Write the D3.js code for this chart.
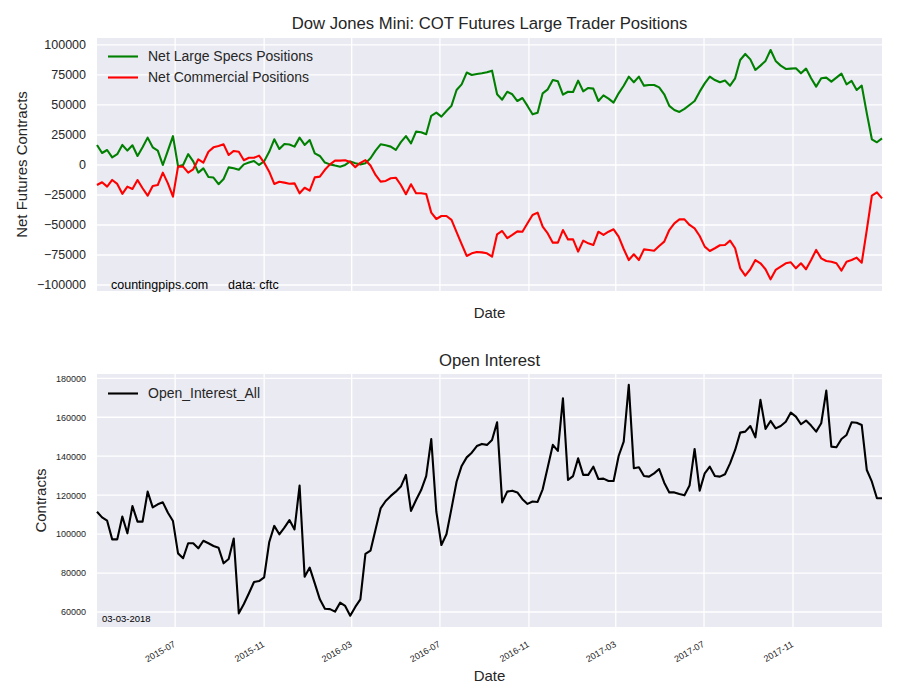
<!DOCTYPE html>
<html>
<head>
<meta charset="utf-8">
<script src="https://cdn.jsdelivr.net/npm/d3@7"></script>
<style>
  body { margin: 0; background: #ffffff; }
  svg { display: block; font-family: "Liberation Sans", Arial, sans-serif; }
</style>
</head>
<body>
<svg id="chart" width="900" height="700"></svg>
<script>
// ---------------- DATA ----------------
const startDate = "2015-03-10";   // first weekly (Tuesday) report date
const weeks = 156;                 // number of weekly observations

const netLargeSpecs = [
  16700, 10000, 12500, 6400, 9000, 16700, 12000, 16400, 7500, 14700,
  22800, 14700, 12000, 0, 12000, 24000, -1000, 0, 9000, 3000,
  -6400, -2800, -10000, -10500, -16000, -11700, -2000, -2800, -4000, 500,
  2000, 3300, 0, 3000, 11000, 21400, 13300, 17500, 17000, 15300,
  22800, 16700, 20800, 9700, 7500, 2000, 500, -500, -1400, 0,
  3000, 1400, 500, 1500, 5600, 12000, 17200, 16400, 15300, 12500,
  19000, 24000, 18000, 27800, 27200, 25600, 41000, 43600, 40300, 45000,
  49400, 62500, 67200, 77000, 75000, 75800, 76400, 77200, 78600, 58900,
  54400, 61000, 58900, 53300, 55800, 49200, 42200, 43600, 59700, 63000,
  70800, 69700, 58600, 61000, 60800, 70300, 61400, 64200, 63600, 53300,
  58000, 55300, 52000, 59700, 66000, 73600, 68900, 73600, 66100, 66700,
  66700, 64700, 58900, 49200, 45800, 44200, 46700, 50000, 53300, 61100,
  68000, 73600, 70800, 68900, 70300, 66100, 72200, 87500, 92500, 88000,
  79200, 82800, 86700, 95800, 86700, 82800, 80000, 80300, 80600, 76400,
  80300, 72200, 65300, 72200, 72800, 69400, 72800, 76100, 67200, 70000,
  62500, 66100, 43000, 21400, 18900, 22200
];

const netCommercial = [
  -16700, -14400, -18000, -12500, -15800, -24000, -18000, -20000, -12500, -19400,
  -25600, -17500, -16700, -6400, -15300, -26400, -1400, -1400, -6400, -3600,
  4700, 2000, 11000, 14700, 15800, 17200, 8300, 11700, 11000, 4000,
  6000, 6000, 7800, 2000, -5600, -15800, -14000, -14700, -15600, -15300,
  -23600, -19000, -21400, -10300, -9700, -4000, 500, 3600, 3600, 4000,
  2500, -1800, 1800, 4000, -500, -8300, -13900, -13300, -11100, -10600,
  -16700, -24400, -16100, -23600, -23600, -24200, -39700, -45000, -42500, -42500,
  -45800, -56000, -66000, -75800, -73600, -72500, -72800, -73600, -76400, -57800,
  -55000, -61000, -58300, -55300, -55600, -48600, -41700, -39700, -51400, -57000,
  -64700, -64700, -54200, -62000, -62000, -72200, -63000, -65300, -66700, -55600,
  -58300, -55600, -53600, -59700, -70000, -79200, -74400, -79200, -70300, -70800,
  -71400, -67500, -63900, -54200, -48600, -45300, -45300, -50000, -52800, -59200,
  -68000, -71700, -69400, -66900, -66700, -63000, -69400, -86100, -92200, -86900,
  -79200, -81900, -86900, -95300, -87500, -84700, -81900, -81100, -86100, -81900,
  -86900, -79200, -70800, -77800, -80000, -80600, -81900, -88000, -80600, -79200,
  -77200, -81400, -54000, -25600, -22800, -27800
];

const openInterestAll = [
  111500, 108600, 106900, 97300, 97300, 109000, 100400, 114400, 106400, 106400,
  121800, 113700, 115300, 116300, 111000, 106700, 90100, 87600, 95300, 95300,
  92700, 96600, 95300, 93900, 93000, 85000, 87200, 97700, 59300, 64100,
  69600, 75400, 75900, 77800, 95800, 104200, 99900, 103300, 107200, 102400,
  124900, 78100, 82800, 74700, 66500, 61700, 61500, 60200, 64800, 63100,
  58100, 62600, 66500, 89800, 91500, 102400, 113200, 117000, 119600, 121800,
  124400, 130400, 111900, 117500, 122600, 129800, 148800, 111500, 94400, 99900,
  113200, 126900, 135000, 139400, 141800, 145200, 146300, 145800, 148300, 157400,
  116300, 121800, 122300, 121400, 117900, 115500, 116700, 116500, 123000, 134300,
  145800, 142700, 169700, 127800, 129800, 138900, 130400, 130400, 134600, 128300,
  128500, 127300, 127300, 140100, 147500, 176600, 133800, 134300, 129800, 129500,
  131200, 133400, 126400, 121400, 121400, 120600, 119900, 124900, 143700, 122300,
  131200, 134600, 129800, 129500, 130700, 136300, 143200, 152100, 152600, 155500,
  149700, 168900, 154000, 158100, 154300, 155500, 157700, 162400, 160300, 156400,
  158300, 155700, 152600, 156900, 173700, 144900, 144600, 148800, 150900, 157400,
  157200, 156000, 132900, 126900, 118400, 118400
];

const topYTicks = [-100000, -75000, -50000, -25000, 0, 25000, 50000, 75000, 100000];
const bottomYTicks = [60000, 80000, 100000, 120000, 140000, 160000, 180000];
const xTickLabels = ["2015-07", "2015-11", "2016-03", "2016-07", "2016-11", "2017-03", "2017-07", "2017-11"];

const topTitle = "Dow Jones Mini: COT Futures Large Trader Positions";
const bottomTitle = "Open Interest";
const seriesNames = ["Net Large Specs Positions", "Net Commercial Positions"];
const oiName = "Open_Interest_All";

// ---------------- CHART ----------------
const parse = d3.timeParse("%Y-%m-%d");
const parseMonth = d3.timeParse("%Y-%m");
const dates = d3.timeWeek.every(1).range(parse(startDate), d3.timeDay.offset(parse(startDate), 7 * weeks));
const tickDates = xTickLabels.map(parseMonth);

const svg = d3.select("#chart");
const textColor = "#262626";
const bg = "#EAEAF2";

const L = 97, R = 882;
const top1 = 38, bot1 = 291;
const top2 = 374, bot2 = 627;

const x = d3.scaleTime().domain([dates[0], dates[dates.length - 1]]).range([L, R]);
const y1 = d3.scaleLinear().domain([-105000, 105800]).range([bot1, top1]);
const y2 = d3.scaleLinear().domain([52300, 182200]).range([bot2, top2]);

function panel(yScale, yTicks, t, b, tickFont, fmt) {
  const g = svg.append("g");
  g.append("rect").attr("x", L).attr("y", t).attr("width", R - L).attr("height", b - t).attr("fill", bg);
  g.selectAll(".hg").data(yTicks).enter().append("line")
    .attr("x1", L).attr("x2", R)
    .attr("y1", d => yScale(d)).attr("y2", d => yScale(d))
    .attr("stroke", "#ffffff").attr("stroke-width", 1.3);
  g.selectAll(".vg").data(tickDates).enter().append("line")
    .attr("y1", t).attr("y2", b)
    .attr("x1", d => x(d)).attr("x2", d => x(d))
    .attr("stroke", "#ffffff").attr("stroke-width", 1.3);
  const ax = g.append("g").attr("transform", `translate(${L},0)`)
    .call(d3.axisLeft(yScale).tickValues(yTicks).tickSize(0).tickPadding(11).tickFormat(fmt));
  ax.select(".domain").remove();
  ax.selectAll("text").attr("font-size", tickFont).attr("fill", textColor)
    .attr("font-family", "'Liberation Sans', Arial, sans-serif");
  return g;
}

const fmtTop = v => (v < 0 ? "\u2212" + Math.abs(v) : String(v));
const fmtBot = v => String(v);

const g1 = panel(y1, topYTicks, top1, bot1, "12.5px", fmtTop);
const g2 = panel(y2, bottomYTicks, top2, bot2, "9px", fmtBot);

const line = (yScale, arr) => d3.line().x((d, i) => x(dates[i])).y(d => yScale(d))(arr);

g1.append("path").attr("d", line(y1, netLargeSpecs)).attr("fill", "none")
  .attr("stroke", "#008000").attr("stroke-width", 2.1).attr("stroke-linejoin", "round");
g1.append("path").attr("d", line(y1, netCommercial)).attr("fill", "none")
  .attr("stroke", "#ff0000").attr("stroke-width", 2.1).attr("stroke-linejoin", "round");
g2.append("path").attr("d", line(y2, openInterestAll)).attr("fill", "none")
  .attr("stroke", "#000000").attr("stroke-width", 2.1).attr("stroke-linejoin", "round");

// titles
svg.append("text").attr("x", (L + R) / 2).attr("y", 29).attr("text-anchor", "middle")
  .attr("font-size", "16.7px").attr("fill", textColor).text(topTitle);
svg.append("text").attr("x", (L + R) / 2).attr("y", 366).attr("text-anchor", "middle")
  .attr("font-size", "16.7px").attr("fill", textColor).text(bottomTitle);

// axis labels
svg.append("text").attr("transform", `translate(27,${(top1 + bot1) / 2}) rotate(-90)`)
  .attr("text-anchor", "middle").attr("font-size", "15px").attr("fill", textColor).text("Net Futures Contracts");
svg.append("text").attr("transform", `translate(46,${(top2 + bot2) / 2}) rotate(-90)`)
  .attr("text-anchor", "middle").attr("font-size", "15px").attr("fill", textColor).text("Contracts");
svg.append("text").attr("x", (L + R) / 2).attr("y", 318).attr("text-anchor", "middle")
  .attr("font-size", "15px").attr("fill", textColor).text("Date");
svg.append("text").attr("x", (L + R) / 2).attr("y", 681).attr("text-anchor", "middle")
  .attr("font-size", "15px").attr("fill", textColor).text("Date");

// x tick labels (bottom panel)
svg.selectAll(".xt").data(tickDates).enter().append("text")
  .attr("transform", (d) => `translate(${x(d) + 1},646) rotate(-30)`)
  .attr("text-anchor", "end").attr("font-size", "9px").attr("fill", textColor)
  .text((d, i) => xTickLabels[i]);

// legends
const legTop = [
  { name: seriesNames[0], color: "#008000", y: 56.5 },
  { name: seriesNames[1], color: "#ff0000", y: 77.5 }
];
legTop.forEach(l => {
  svg.append("line").attr("x1", 108).attr("x2", 138).attr("y1", l.y).attr("y2", l.y)
    .attr("stroke", l.color).attr("stroke-width", 2.1);
  svg.append("text").attr("x", 148).attr("y", l.y).attr("dy", "0.35em")
    .attr("font-size", "14px").attr("fill", textColor).text(l.name);
});
svg.append("line").attr("x1", 108).attr("x2", 138).attr("y1", 393.5).attr("y2", 393.5)
  .attr("stroke", "#000000").attr("stroke-width", 2.1);
svg.append("text").attr("x", 148).attr("y", 393.5).attr("dy", "0.35em")
  .attr("font-size", "14px").attr("fill", textColor).text(oiName);

// annotations
svg.append("text").attr("x", 111).attr("y", 289).attr("font-size", "12.5px").attr("fill", "#000").text("countingpips.com");
svg.append("text").attr("x", 228).attr("y", 289).attr("font-size", "12.5px").attr("fill", "#000").text("data: cftc");
svg.append("text").attr("x", 102).attr("y", 622).attr("font-size", "9.5px").attr("fill", "#000").text("03-03-2018");
</script>
</body>
</html>
